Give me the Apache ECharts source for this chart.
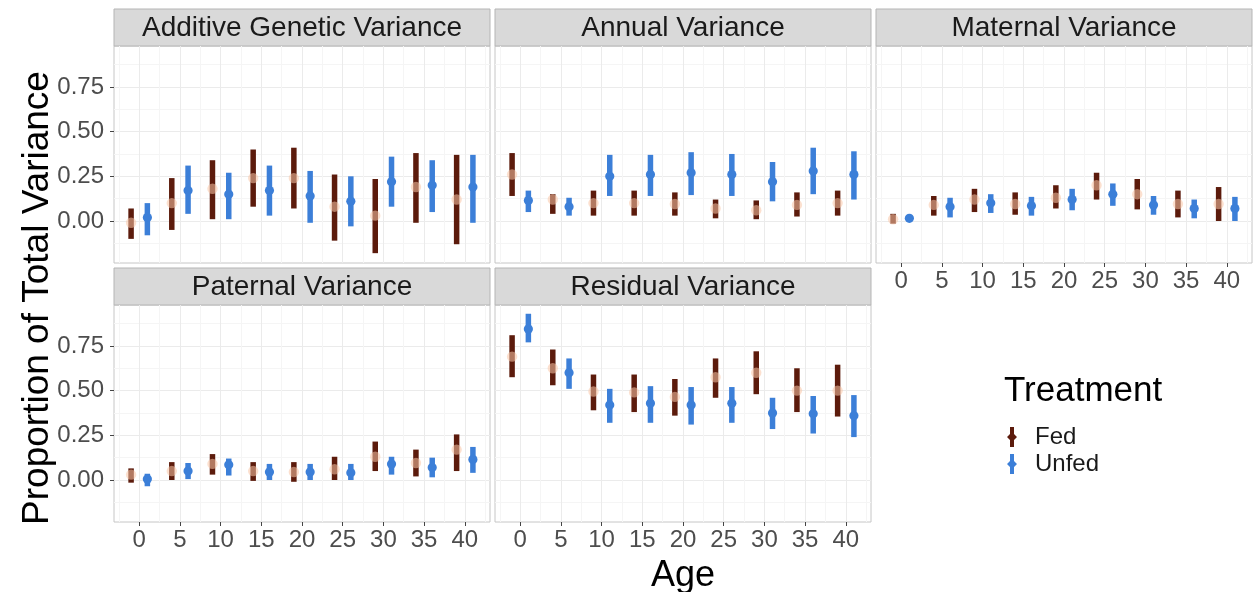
<!DOCTYPE html>
<html>
<head>
<meta charset="utf-8">
<script src="https://cdn.jsdelivr.net/npm/echarts@6/dist/echarts.min.js"></script>
<style>
html,body{margin:0;padding:0;background:#fff;}
#chart{width:1254px;height:592px;}
</style>
</head>
<body>
<div id="chart"></div>
<script>
// ---------- data ----------
const ages = [0, 5, 10, 15, 20, 25, 30, 35, 40];
const yTicks = [0, 0.25, 0.5, 0.75];
const yMinorTicks = [-0.125, 0.125, 0.375, 0.625, 0.875];
const xMinorTicks = [-2.5, 2.5, 7.5, 12.5, 17.5, 22.5, 27.5, 32.5, 37.5, 42.5];
const panelNames = ['Additive Genetic Variance', 'Annual Variance', 'Maternal Variance', 'Paternal Variance', 'Residual Variance'];
const treatments = ['Fed', 'Unfed'];

// Additive Genetic Variance
const additiveFedEst = [-0.01, 0.10, 0.18, 0.24, 0.24, 0.08, 0.03, 0.19, 0.12];
const additiveFedLo  = [-0.10, -0.05, 0.01, 0.08, 0.07, -0.11, -0.18, -0.01, -0.13];
const additiveFedHi  = [0.07, 0.24, 0.34, 0.40, 0.41, 0.26, 0.235, 0.38, 0.37];
const additiveUnfedEst = [0.02, 0.17, 0.15, 0.17, 0.14, 0.11, 0.22, 0.20, 0.19];
const additiveUnfedLo  = [-0.08, 0.04, 0.01, 0.03, -0.01, -0.03, 0.08, 0.05, -0.01];
const additiveUnfedHi  = [0.10, 0.31, 0.27, 0.31, 0.28, 0.25, 0.36, 0.34, 0.37];

// Annual Variance
const annualFedEst = [0.26, 0.12, 0.10, 0.10, 0.095, 0.07, 0.06, 0.09, 0.10];
const annualFedLo  = [0.14, 0.04, 0.03, 0.03, 0.03, 0.015, 0.01, 0.025, 0.03];
const annualFedHi  = [0.38, 0.15, 0.17, 0.17, 0.16, 0.12, 0.115, 0.16, 0.17];
const annualUnfedEst = [0.115, 0.08, 0.25, 0.26, 0.27, 0.26, 0.22, 0.28, 0.26];
const annualUnfedLo  = [0.05, 0.03, 0.14, 0.14, 0.145, 0.14, 0.11, 0.15, 0.12];
const annualUnfedHi  = [0.17, 0.13, 0.37, 0.37, 0.385, 0.375, 0.33, 0.41, 0.39];

// Maternal Variance
const maternalFedEst = [0.01, 0.09, 0.12, 0.095, 0.13, 0.20, 0.15, 0.095, 0.095];
const maternalFedLo  = [-0.015, 0.03, 0.05, 0.035, 0.07, 0.12, 0.065, 0.02, 0.0];
const maternalFedHi  = [0.04, 0.14, 0.18, 0.16, 0.20, 0.27, 0.235, 0.17, 0.19];
const maternalUnfedEst = [0.015, 0.08, 0.10, 0.085, 0.12, 0.15, 0.09, 0.07, 0.07];
const maternalUnfedLo  = [0.005, 0.02, 0.045, 0.03, 0.06, 0.085, 0.035, 0.015, 0.0];
const maternalUnfedHi  = [0.025, 0.13, 0.15, 0.135, 0.18, 0.21, 0.14, 0.12, 0.135];

// Paternal Variance
const paternalFedEst = [0.03, 0.05, 0.09, 0.05, 0.045, 0.06, 0.13, 0.095, 0.17];
const paternalFedLo  = [-0.015, 0.0, 0.03, -0.005, -0.01, 0.0, 0.05, 0.02, 0.05];
const paternalFedHi  = [0.065, 0.10, 0.145, 0.10, 0.10, 0.13, 0.215, 0.17, 0.255];
const paternalUnfedEst = [0.005, 0.05, 0.085, 0.045, 0.045, 0.04, 0.09, 0.07, 0.115];
const paternalUnfedLo  = [-0.035, 0.005, 0.025, 0.0, 0.0, 0.0, 0.03, 0.015, 0.04];
const paternalUnfedHi  = [0.035, 0.095, 0.12, 0.09, 0.09, 0.09, 0.13, 0.125, 0.185];

// Residual Variance
const residualFedEst = [0.69, 0.625, 0.495, 0.49, 0.465, 0.575, 0.60, 0.50, 0.50];
const residualFedLo  = [0.575, 0.53, 0.39, 0.38, 0.36, 0.46, 0.48, 0.38, 0.355];
const residualFedHi  = [0.81, 0.73, 0.59, 0.59, 0.565, 0.68, 0.72, 0.625, 0.645];
const residualUnfedEst = [0.845, 0.60, 0.42, 0.43, 0.42, 0.43, 0.375, 0.37, 0.36];
const residualUnfedLo  = [0.77, 0.51, 0.32, 0.32, 0.31, 0.32, 0.285, 0.26, 0.24];
const residualUnfedHi  = [0.93, 0.68, 0.51, 0.525, 0.52, 0.52, 0.46, 0.47, 0.475];

// ---------- assembly ----------
const panelData = [
  [[additiveFedEst, additiveFedLo, additiveFedHi], [additiveUnfedEst, additiveUnfedLo, additiveUnfedHi]],
  [[annualFedEst, annualFedLo, annualFedHi], [annualUnfedEst, annualUnfedLo, annualUnfedHi]],
  [[maternalFedEst, maternalFedLo, maternalFedHi], [maternalUnfedEst, maternalUnfedLo, maternalUnfedHi]],
  [[paternalFedEst, paternalFedLo, paternalFedHi], [paternalUnfedEst, paternalUnfedLo, paternalUnfedHi]],
  [[residualFedEst, residualFedLo, residualFedHi], [residualUnfedEst, residualUnfedLo, residualUnfedHi]]
];

const FONT = '"Liberation Sans", Arial, Helvetica, sans-serif';
const PW = 376, PH = 217, STRIP = 37;
const layout = [
  {left: 114, top: 46, xl: false, yl: true},
  {left: 495, top: 46, xl: false, yl: false},
  {left: 876, top: 46, xl: true, yl: false},
  {left: 114, top: 305, xl: true, yl: true},
  {left: 495, top: 305, xl: true, yl: false}
];
const dodge = [-1.0, 1.0];
const lineColors = ['#5C1B0C', '#3C7FD8'];
const pointColors = ['rgba(250,198,168,0.55)', '#3C7FD8'];
const pointRadius = [5.2, 4.6];

const grids = [], xAxes = [], yAxes = [], series = [], graphics = [];
layout.forEach((L, i) => {
  grids.push({left: L.left, top: L.top, width: PW, height: PH, show: true,
    backgroundColor: '#ffffff', borderColor: '#C6C6C6', borderWidth: 1});
  // major x axis
  xAxes.push({type: 'value', gridIndex: i, min: -3.1, max: 43.1, position: 'bottom',
    axisLine: {show: false, onZero: false},
    axisTick: {show: L.xl, customValues: ages, length: 4, lineStyle: {color: '#444'}},
    axisLabel: {show: L.xl, customValues: ages, fontSize: 24, color: '#4D4D4D', margin: 6, fontFamily: FONT},
    splitLine: {show: true, lineStyle: {color: '#EBEBEB', width: 1}}});
  // minor x axis
  xAxes.push({type: 'value', gridIndex: i, min: -3.1, max: 43.1, position: 'top',
    axisLine: {show: false, onZero: false},
    axisTick: {show: false, customValues: xMinorTicks},
    axisLabel: {show: false},
    splitLine: {show: true, lineStyle: {color: '#F5F5F5', width: 1}}});
  // major y axis
  yAxes.push({type: 'value', gridIndex: i, min: -0.235, max: 0.979, position: 'left',
    axisLine: {show: false, onZero: false},
    axisTick: {show: L.yl, customValues: yTicks, length: 4, lineStyle: {color: '#444'}},
    axisLabel: {show: L.yl, customValues: yTicks, fontSize: 24, color: '#4D4D4D', margin: 10,
      fontFamily: FONT, formatter: v => Number(v).toFixed(2)},
    splitLine: {show: true, lineStyle: {color: '#EBEBEB', width: 1}}});
  // minor y axis
  yAxes.push({type: 'value', gridIndex: i, min: -0.235, max: 0.979, position: 'right',
    axisLine: {show: false, onZero: false},
    axisTick: {show: false, customValues: yMinorTicks},
    axisLabel: {show: false},
    splitLine: {show: true, lineStyle: {color: '#F5F5F5', width: 1}}});

  treatments.forEach((t, k) => {
    const [est, lo, hi] = panelData[i][k];
    const data = ages.map((a, j) => [a, est[j], lo[j], hi[j]]);
    const dx = dodge[k], lc = lineColors[k], pc = pointColors[k], pr = pointRadius[k];
    series.push({
      type: 'custom', name: t, xAxisIndex: 2 * i, yAxisIndex: 2 * i,
      itemStyle: {color: lc}, clip: true,
      encode: {x: 0, y: [1, 2, 3]},
      data: data,
      renderItem: function (params, api) {
        const x = api.value(0) + dx;
        const pHi = api.coord([x, api.value(3)]);
        const pLo = api.coord([x, api.value(2)]);
        const pE = api.coord([x, api.value(1)]);
        const lw = 5.5;
        return {type: 'group', children: [
          {type: 'rect', shape: {x: pHi[0] - lw / 2, y: pHi[1], width: lw, height: pLo[1] - pHi[1]},
            style: {fill: lc}},
          {type: 'circle', shape: {cx: pE[0], cy: pE[1], r: pr}, style: {fill: pc}}
        ]};
      }
    });
  });

  // strip
  graphics.push({type: 'rect', shape: {x: L.left, y: L.top - STRIP, width: PW, height: STRIP},
    style: {fill: '#D9D9D9', stroke: '#B5B5B5', lineWidth: 1}});
  graphics.push({type: 'text', x: L.left + PW / 2, y: L.top - STRIP / 2 + 1,
    style: {text: panelNames[i], font: '28px ' + FONT, fill: '#1A1A1A',
      textAlign: 'center', textVerticalAlign: 'middle'}});
});

// axis titles & legend title
graphics.push({type: 'text', x: 38, y: 298, rotation: Math.PI / 2,
  style: {text: 'Proportion of Total Variance', font: '37px ' + FONT, fill: '#000',
    textAlign: 'center', textVerticalAlign: 'middle'}});
graphics.push({type: 'text', x: 683, y: 576,
  style: {text: 'Age', font: '36px ' + FONT, fill: '#000',
    textAlign: 'center', textVerticalAlign: 'middle'}});
graphics.push({type: 'text', x: 1004, y: 391,
  style: {text: 'Treatment', font: '35px ' + FONT, fill: '#000',
    textAlign: 'left', textVerticalAlign: 'middle'}});

const keyIcon = 'path://M3,0 L7,0 L7,7 L10,10 L7,13 L7,20 L3,20 L3,13 L0,10 L3,7 Z';

const option = {
  animation: false,
  backgroundColor: '#ffffff',
  textStyle: {fontFamily: FONT},
  grid: grids,
  xAxis: xAxes,
  yAxis: yAxes,
  legend: {
    orient: 'vertical', left: 1007, top: 425, padding: 0,
    itemWidth: 10, itemHeight: 21, itemGap: 3, selectedMode: false,
    data: [{name: 'Fed', icon: keyIcon}, {name: 'Unfed', icon: keyIcon}],
    textStyle: {fontSize: 24, color: '#1A1A1A', fontFamily: FONT, lineHeight: 24, padding: [0, 0, 0, 13]}
  },
  graphic: graphics,
  series: series
};

const chart = echarts.init(document.getElementById('chart'), null, {renderer: 'canvas'});
chart.setOption(option);
</script>
</body>
</html>
